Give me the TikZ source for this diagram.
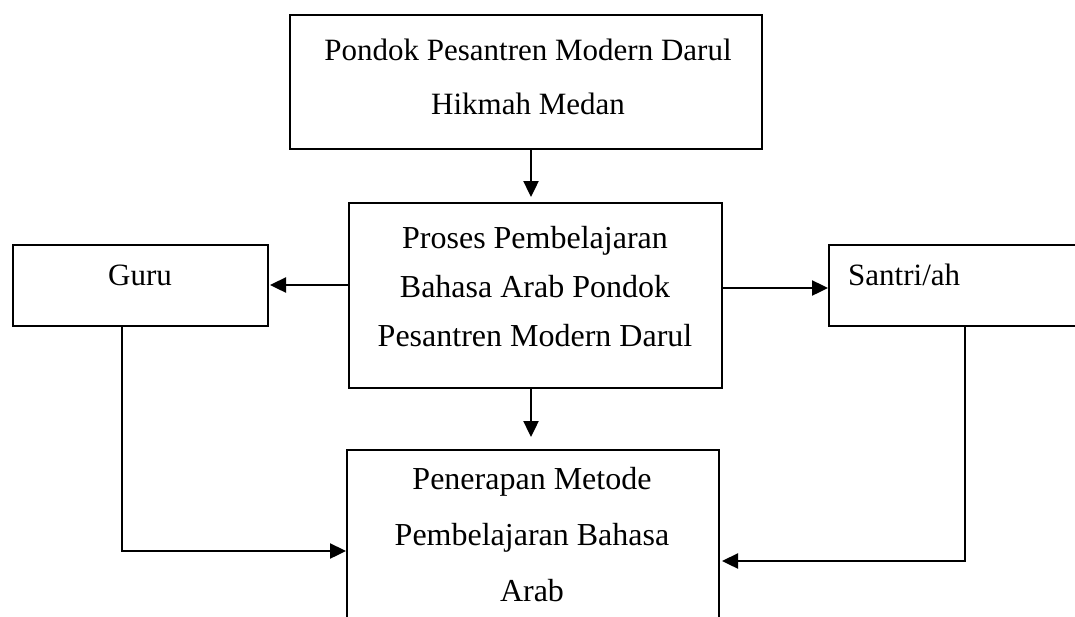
\documentclass[tikz,border=0pt]{standalone}
\usepackage{fontspec}
\setmainfont{Liberation Serif}
\usetikzlibrary{arrows.meta}
\begin{document}
\begin{tikzpicture}[x=1pt,y=-1pt,
  box/.style={draw=black,line width=1.9pt,inner sep=0pt,anchor=north west},
  txt/.style={font=\fontsize{31}{53}\selectfont,align=center,inner sep=0pt},
  conn/.style={line width=2.4pt,-{Triangle[length=16pt,width=15pt]}}]
\useasboundingbox (0,0) rectangle (1075,616);
\clip (0,0) rectangle (1075,616);
\node[box,minimum width=472pt,minimum height=134pt] (top) at (289,14) {};
\node[box,minimum width=373pt,minimum height=185pt] (mid) at (348,202) {};
\node[box,minimum width=255pt,minimum height=81pt] (guru) at (12,244) {};
\node[box,minimum width=260pt,minimum height=81pt] (santri) at (828,244) {};
\node[box,minimum width=372pt,minimum height=200pt] (pen) at (346,449) {};
\node[txt,font=\fontsize{31}{54}\selectfont] (ttop) at (528,77) {Pondok Pesantren Modern Darul\\Hikmah Medan};
\node[txt,font=\fontsize{32}{49}\selectfont] (tmid) at (535,287) {Proses Pembelajaran\\Bahasa Arab Pondok\\Pesantren Modern Darul};
\node[txt] (tguru) at (140,275) {Guru};
\node[txt,anchor=west] (tsantri) at (848,275) {Santri/ah};
\node[txt,font=\fontsize{32}{56}\selectfont] (tpen) at (532,535) {Penerapan Metode\\Pembelajaran Bahasa\\Arab};
\coordinate (a1) at (531,148);
\coordinate (a2) at (531,197);
\draw[conn] (a1) -- (a2);
\coordinate (b1) at (348,285);
\draw[conn] (b1) -- (270,285) coordinate (b2);
\coordinate (c1) at (721,288);
\draw[conn] (c1) -- (santri.west |- c1);
\coordinate (d1) at (531,387);
\draw[conn] (d1) -- (531,437) coordinate (d2);
\coordinate (g1) at (122,325);
\draw[conn] (g1) -- (122,551) -- (pen.west |- 0,551);
\coordinate (s1) at (965,325);
\draw[conn] (s1) -- (965,561) -- (722,561) coordinate (s2);
\end{tikzpicture}
\end{document}
